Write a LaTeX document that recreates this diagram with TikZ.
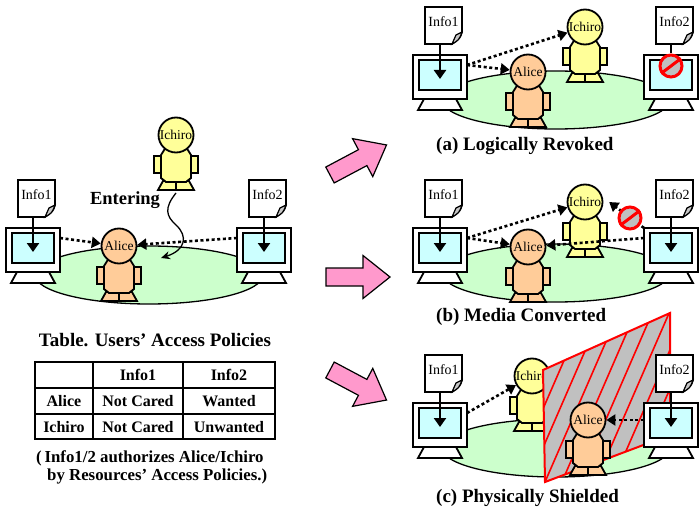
\documentclass[tikz,border=0pt]{standalone}
\usepackage{fontspec}
\setmainfont{Liberation Serif}
\usetikzlibrary{arrows.meta,calc}

\definecolor{groundgreen}{HTML}{CCFFCC}
\definecolor{screencyan}{HTML}{CCFFFF}
\definecolor{alicefill}{HTML}{FFCC99}
\definecolor{ichirofill}{HTML}{FFFF99}
\definecolor{pinkfill}{HTML}{FF99CC}
\definecolor{shieldgray}{HTML}{C0C0C0}
\definecolor{alarmred}{HTML}{FF0000}

\tikzset{
  personline/.style={draw=black, line width=1.8pt},
  headnode/.style={circle, draw=black, line width=1.8pt, minimum size=35pt, inner sep=0pt,
    font=\fontsize{13.5}{14}\selectfont},
  ground/.style={draw=black, line width=1.3pt, fill=groundgreen},
  monframe/.style={draw=black, line width=2pt, fill=white, minimum width=54pt,
    minimum height=44pt, inner sep=0pt},
  screenbox/.style={draw=black, line width=2.2pt, fill=screencyan},
  baseline/.style={draw=black, line width=1.8pt, fill=white},
  docline/.style={draw=black, line width=1.8pt, fill=white},
  doctext/.style={font=\fontsize{14}{15}\selectfont, inner sep=0pt},
  feed/.style={line width=2.4pt, -{Triangle[width=12pt,length=9pt]}},
  flow/.style={line width=2.6pt, dash pattern=on 3pt off 2.6pt, -{Triangle[width=11pt,length=9pt]}},
  enterline/.style={line width=1.3pt, -{Stealth[length=9pt,width=8pt]}},
  pinkarrow/.style={draw=black, line width=1.2pt, fill=pinkfill, line join=miter},
  caption/.style={font=\bfseries\fontsize{19}{22}\selectfont, inner sep=0pt},
  celltext/.style={font=\bfseries\fontsize{16}{18}\selectfont, inner sep=0pt},
  notetext/.style={font=\bfseries\fontsize{16.8}{18}\selectfont, inner sep=0pt, anchor=west},
  hatch/.style={draw=alarmred, line width=1.6pt},
  % a little person: arms, feet, torso and a named head
  pics/person/.style 2 args={code={
    \draw[personline, fill=#1] (-22,21) rectangle (-14,38);
    \draw[personline, fill=#1] (14,21) rectangle (22,38);
    \draw[personline, fill=#1] (-18,55) -- (-13,46) -- (0,46) -- (0,55) -- cycle;
    \draw[personline, fill=#1] (18,55) -- (13,46) -- (0,46) -- (0,55) -- cycle;
    \draw[personline, fill=#1] (-10,12) -- (10,12) -- (15,20) -- (15,43) -- (10,47)
      -- (-10,47) -- (-15,43) -- (-15,20) -- cycle;
    \node[headnode, fill=#1] (-head) at (0,0) {#2};
    \coordinate (-feet) at (0,58);
  }},
  % a display: stand, frame and screen; origin at the frame's top left corner
  pics/monitor/.style={code={
    \draw[baseline] (11,44) -- (43,44) -- (49,55) -- (5,55) -- cycle;
    \node[monframe] (-frame) at (27,22) {};
    \draw[screenbox] (6,5) rectangle (48,35);
    \coordinate (-in) at (27,24);
    \coordinate (-l) at (0,10);
    \coordinate (-r) at (54,10);
    \coordinate (-tl) at (0,0);
  }},
  % a sheet with a curled corner; origin at its top left corner
  pics/doc/.style={code={
    \draw[docline] (0,0) -- (37,0) -- (37,25) .. controls (35,31) .. (27,37) -- (0,37) -- cycle;
    \draw[draw=black, line width=1.2pt, fill=gray!45] (37,25) -- (31,28) -- (27,37) .. controls (34,33) .. cycle;
    \node[doctext] (-label) at (18.5,15) {#1};
    \coordinate (-out) at (15,37);
  }},
  % a prohibition sign
  pics/nosign/.style={code={
    \node[circle, draw=alarmred, line width=3pt, fill=shieldgray, minimum size=22pt, inner sep=0pt] (-ring) at (0,0) {};
    \draw[alarmred, line width=3pt] (-ring.217) -- (-ring.37);
  }}
}

\begin{document}
\begin{tikzpicture}[x=1pt,y=-1pt]
\useasboundingbox (0,0) rectangle (699,508);

% ---------- initial situation ----------
\draw[ground] (149,275) ellipse [x radius=114pt, y radius=29pt];
\pic (monA) at (6,228) {monitor};
\pic (monB) at (237,228) {monitor};
\pic (docA) at (18,180) {doc=Info1};
\pic (docB) at (249,180) {doc=Info2};
\draw[feed] (docA-out) -- (monA-in);
\draw[feed] (docB-out) -- (monB-in);
\pic (ichiro0) at (176,135) {person={ichirofill}{Ichiro}};
\pic (alice0) at (119,246) {person={alicefill}{Alice}};
\draw[flow] (monA-r) -- (alice0-head);
\draw[flow] (monB-l) -- (alice0-head);
\node[caption, font=\bfseries\fontsize{18.5}{20}\selectfont] (entering) at (125,200) {Entering};
\coordinate (enterEnd) at (161,258);
\draw[enterline] (ichiro0-feet) .. controls (164,208) and (166,216) .. (176,225)
  .. controls (188,236) and (186,250) .. (enterEnd);

% ---------- access policy table ----------
\node[caption] (tabletitle) at (155,340) {Table. Users' Access Policies};
\draw[line width=1.3pt] (35,362) rectangle (275,439);
\draw[line width=1.3pt] (35,388) -- (275,388);
\draw[line width=1.3pt] (35,414) -- (275,414);
\draw[line width=1.3pt] (93,362) -- (93,439);
\draw[line width=1.3pt] (183,362) -- (183,439);
\node[celltext] (hInfoA) at (138,375) {Info1};
\node[celltext] (hInfoB) at (229,375) {Info2};
\node[celltext] (rAlice) at (64,401) {Alice};
\node[celltext] (cAA) at (138,401) {Not Cared};
\node[celltext] (cAB) at (229,401) {Wanted};
\node[celltext] (rIchiro) at (64,427) {Ichiro};
\node[celltext] (cIA) at (138,427) {Not Cared};
\node[celltext] (cIB) at (229,427) {Unwanted};
\node[notetext] (noteA) at (36,458) {(\,Info1/2 authorizes Alice/Ichiro};
\node[notetext] (noteB) at (47,476) {by Resources' Access Policies.)};

% ---------- transition arrows ----------
\begin{scope}[shift={(330,175)}, rotate=28]
  \draw[pinkarrow] (0,-9) -- (37,-9) -- (37,-21.5) -- (64,0) -- (37,21.5) -- (37,9) -- (0,9) -- cycle;
\end{scope}
\begin{scope}[shift={(326,277)}]
  \draw[pinkarrow] (0,-9) -- (37,-9) -- (37,-21.5) -- (64,0) -- (37,21.5) -- (37,9) -- (0,9) -- cycle;
\end{scope}
\begin{scope}[shift={(330,370)}, rotate=-28]
  \draw[pinkarrow] (0,-9) -- (37,-9) -- (37,-21.5) -- (64,0) -- (37,21.5) -- (37,9) -- (0,9) -- cycle;
\end{scope}

% ---------- (a) logically revoked ----------
\draw[ground] (556,100) ellipse [x radius=114pt, y radius=29pt];
\pic (monC) at (413,55) {monitor};
\pic (monD) at (644,55) {monitor};
\pic (docC) at (425,7) {doc=Info1};
\pic (docD) at (656,7) {doc=Info2};
\draw[feed] (docC-out) -- (monC-in);
\pic (ichiroA) at (585,27) {person={ichirofill}{Ichiro}};
\pic (aliceA) at (528,72) {person={alicefill}{Alice}};
\draw[flow] (monC-r) -- (aliceA-head);
\draw[flow] (monC-r) -- (ichiroA-head);
\pic (stopA) at (671,66) {nosign};
\draw[line width=2.4pt] (docD-out) -- (stopA-ring.north);
\node[caption, anchor=west] (capA) at (436,146) {(a) Logically Revoked};

% ---------- (b) media converted ----------
\draw[ground] (556,273) ellipse [x radius=114pt, y radius=29pt];
\pic (monE) at (413,228) {monitor};
\pic (monF) at (644,228) {monitor};
\pic (docE) at (425,180) {doc=Info1};
\pic (docF) at (656,180) {doc=Info2};
\draw[feed] (docE-out) -- (monE-in);
\draw[feed] (docF-out) -- (monF-in);
\pic (ichiroB) at (585,202) {person={ichirofill}{Ichiro}};
\pic (aliceB) at (528,247) {person={alicefill}{Alice}};
\draw[flow] (monE-r) -- (aliceB-head);
\draw[flow] (monE-r) -- (ichiroB-head);
\draw[flow] (monF-l) -- (aliceB-head);
\draw[flow, shorten >=8pt] (monF-tl) -- (ichiroB-head.15);
\pic (stopB) at (630,218) {nosign};
\node[caption, anchor=west] (capB) at (436,317) {(b) Media Converted};

% ---------- (c) physically shielded ----------
\draw[ground] (556,448) ellipse [x radius=114pt, y radius=29pt];
\pic (monG) at (413,403) {monitor};
\pic (docG) at (425,355) {doc=Info1};
\draw[feed] (docG-out) -- (monG-in);
\pic (ichiroC) at (532,376) {person={ichirofill}{Ichiro}};
\draw[flow] (monG-r) -- (ichiroC-head);
% the shield: grey panel with red hatching
\fill[shieldgray] (543,370) -- (670,313) -- (670,435) -- (545,482) -- cycle;
\begin{scope}
  \clip (543,370) -- (670,313) -- (670,435) -- (545,482) -- cycle;
  \foreach \k in {0,...,9}{
    \draw[hatch] (543+21*\k+40, 370-9.45*\k-92) -- (543+21*\k-90, 370-9.45*\k+207);
  }
\end{scope}
\draw[draw=alarmred, line width=2pt, line join=miter] (543,370) -- (670,313) -- (670,435) -- (545,482) -- cycle;
\pic (aliceC) at (588,420) {person={alicefill}{Alice}};
\pic (monH) at (644,403) {monitor};
\pic (docH) at (656,355) {doc=Info2};
\draw[feed] (docH-out) -- (monH-in);
\draw[flow] ([yshift=-7pt]monH-l) -- (aliceC-head);
\node[caption, anchor=west] (capC) at (436,498) {(c) Physically Shielded};

\end{tikzpicture}
\end{document}
